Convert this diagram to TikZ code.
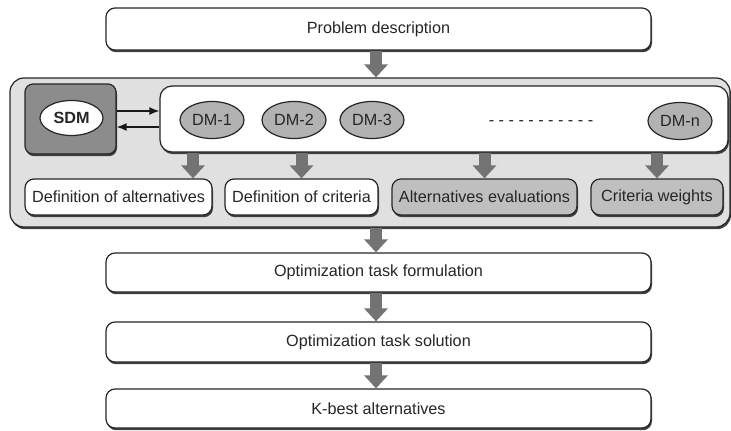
\documentclass[tikz,border=0pt]{standalone}
\usepackage{fontspec}
\setmainfont{Liberation Sans}
\usetikzlibrary{arrows.meta,shapes.geometric,shadows}

\begin{document}
\begin{tikzpicture}[x=1pt,y=-1pt,every node/.style={font=\fontsize{16.2}{19}\selectfont,text=black!85}]

\tikzstyle{box}=[draw=black!85,line width=1.2pt,rounded corners=9pt,fill=white,inner sep=0pt,drop shadow={shadow xshift=1pt,shadow yshift=-2.2pt,fill=black!75,opacity=1}];
\tikzstyle{dm}=[ellipse,draw=black!85,line width=1.2pt,fill=black!30,inner sep=0pt,minimum width=64pt,minimum height=37pt];
\tikzstyle{flow}=[draw=black!55,line width=12pt,-{Triangle[width=23pt,length=13pt]}];
\tikzstyle{link}=[draw=black!90,line width=1.5pt,-{Latex[length=10pt,width=8pt]}];

\useasboundingbox (0,0) rectangle (731,431);

\node[box,minimum width=545pt,minimum height=42pt] (v1) at (378.5,29) {Problem description};

% decision makers
\node[box,rounded corners=14pt,fill=black!12,minimum width=720pt,minimum height=149pt] (v2) at (370,152.5) {};
\node[box,rounded corners=8pt,fill=black!45,minimum width=91pt,minimum height=70pt] (v3) at (70.5,119) {};
\node[ellipse,draw=black!85,line width=1.2pt,fill=white,inner sep=0pt,minimum width=63pt,minimum height=35pt,font=\fontsize{16.2}{19}\selectfont\bfseries] (v4) at (71.5,118) {SDM};
\node[box,rounded corners=12pt,minimum width=568pt,minimum height=66pt] (v5) at (444,119) {};
\node[dm] (v6) at (212,120) {DM-1};
\node[dm] (v7) at (294,120) {DM-2};
\node[dm] (v8) at (372,120) {DM-3};
\node (v10) at (541,123) {- - - - - - - - - - -};
\node[dm] (v9) at (680,121) {DM-n};

\node[box,minimum width=187pt,minimum height=36pt] (v11) at (118.5,197) {Definition of alternatives};
\node[box,minimum width=153pt,minimum height=36pt] (v12) at (301.5,197) {Definition of criteria};
\node[box,fill=black!25,minimum width=185pt,minimum height=36pt] (v13) at (484.5,197) {Alternatives evaluations};
\node[box,fill=black!25,minimum width=132pt,minimum height=36pt] (v14) at (657,197) {Criteria weights};

\node[box,minimum width=545pt,minimum height=39pt] (v15) at (378.5,272.5) {Optimization task formulation};
\node[box,minimum width=545pt,minimum height=40pt] (v16) at (378.5,342) {Optimization task solution};
\node[box,minimum width=545pt,minimum height=39pt] (v17) at (378.5,408.5) {K-best alternatives};

\draw[link] ([yshift=8pt]v3.east) -- ([yshift=8pt]v5.west);
\draw[link] ([yshift=-8pt]v5.west) -- ([yshift=-8pt]v3.east);

\coordinate (a1) at (193,0);
\draw[flow] (a1 |- v5.south) -- (a1 |- v11.north);
\draw[flow] (v12.north |- v5.south) -- (v12.north);
\draw[flow] (v13.north |- v5.south) -- (v13.north);
\draw[flow] (v14.north |- v5.south) -- (v14.north);

\coordinate (a2) at (376,0);
\draw[flow] (a2 |- v1.south) -- (a2 |- v2.north);
\draw[flow] (a2 |- v2.south) -- (a2 |- v15.north);
\draw[flow] (a2 |- v15.south) -- (a2 |- v16.north);
\draw[flow] (a2 |- v16.south) -- (a2 |- v17.north);
\end{tikzpicture}
\end{document}
